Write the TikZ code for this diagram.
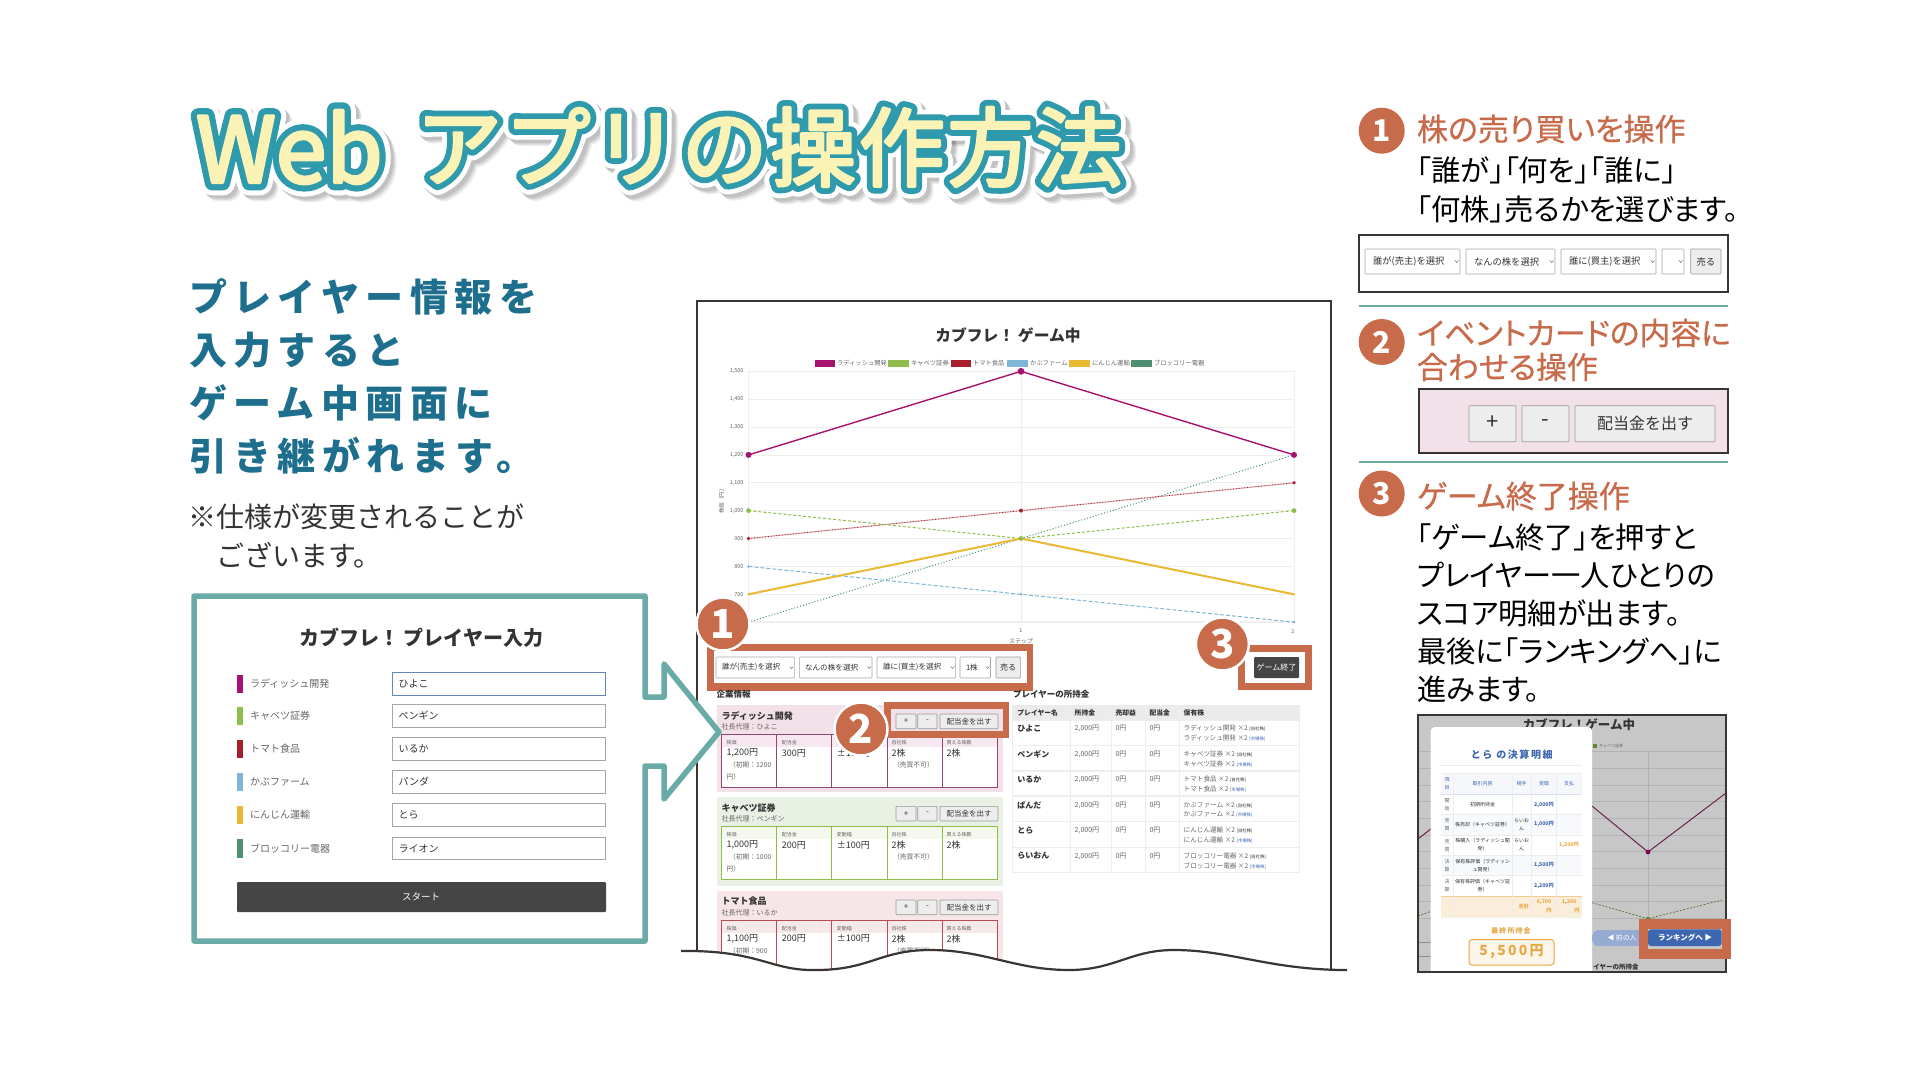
\documentclass[tikz,border=0pt]{standalone}
\usepackage{fontspec}
\setmainfont{Noto Sans CJK JP}
\newfontfamily\jpp[RawFeature=+palt]{Noto Sans CJK JP}
\newfontfamily\jpl[LetterSpace=17]{Noto Sans CJK JP}
\newfontfamily\jps[LetterSpace=16]{Noto Sans CJK JP}
\newfontfamily\ttlS[LetterSpace=3,FakeBold=29]{Noto Sans CJK JP}
\newfontfamily\ttlW[LetterSpace=3,FakeBold=28]{Noto Sans CJK JP}
\newfontfamily\ttlT[LetterSpace=3,FakeBold=17]{Noto Sans CJK JP}
\newfontfamily\ttlY[LetterSpace=3,FakeBold=3.5]{Noto Sans CJK JP}
\newfontfamily\ttlWw[FakeBold=28]{Noto Sans CJK JP}
\newfontfamily\ttlTw[FakeBold=17]{Noto Sans CJK JP}
\newfontfamily\ttlYw[FakeBold=3.5]{Noto Sans CJK JP}
\newfontfamily\medf[RawFeature=+palt,FakeBold=.6]{Noto Sans CJK JP}
\definecolor{org}{HTML}{C76B4A}
\definecolor{frm}{HTML}{6AABA8}
\definecolor{ttlteal}{HTML}{2E9AAB}
\definecolor{ttlyel}{HTML}{FBF3B5}
\definecolor{blu}{HTML}{1E6E8E}
\definecolor{drk}{HTML}{3A3532}
\definecolor{txt}{HTML}{333333}
\definecolor{gry}{HTML}{666666}
\definecolor{grd}{HTML}{EEEEEE}
\definecolor{rad}{HTML}{A8126F}
\definecolor{cab}{HTML}{8FBC4A}
\definecolor{tom}{HTML}{A81E2D}
\definecolor{kab}{HTML}{7FB6D8}
\definecolor{car}{HTML}{E9B834}
\definecolor{bro}{HTML}{4D9070}
\definecolor{pnk}{HTML}{F3E1E9}
\definecolor{pnkb}{HTML}{F6E6E8}
\definecolor{grn}{HTML}{E8F1E4}
\definecolor{mblue}{HTML}{3F67B1}
\definecolor{morg}{HTML}{E8A845}
\newcommand{\fz}[1]{\fontsize{#1}{#1}\selectfont}
\tikzset{
  lbl/.style={inner sep=0pt,outer sep=0pt},
  badge/.style={circle,fill=org,draw=white,line width=2.5pt,inner sep=0pt,text=white,font=\bfseries},
  sel/.style={draw=gray!70,fill=white,line width=.6pt,rounded corners=.8pt},
  btn/.style={draw=gray!80,fill=black!7,line width=.6pt,rounded corners=.8pt},
  orgbox/.style={fill=org},
}
\newcommand{\tx}[6][west]{\node[lbl,anchor=#1,text=#5,font=\fz{#4}] at (#2,#3) {#6};}
\newcommand{\txb}[6][west]{\node[lbl,anchor=#1,text=#5,font=\fz{#4}\bfseries] at (#2,#3) {#6};}
\newcommand{\txp}[6][west]{\node[lbl,anchor=#1,text=#5,font=\jpp\fz{#4}] at (#2,#3) {#6};}
\newcommand{\txm}[6][west]{\node[lbl,anchor=#1,text=#5,font=\medf\fz{#4}] at (#2,#3) {#6};}
% select box with chevron
\newcommand{\selbox}[7]{% x1 x2 y1 y2 textx size text
  \draw[sel] (#1,#3) rectangle (#2,#4);
  \tx{#5}{#3/2+#4/2}{#6}{txt}{#7}
  \draw[line width=.5pt,gray!90!black] (#2-1.8*#6/8-3,#3/2+#4/2-1*#6/8) -- (#2-1.8*#6/8-1.2,#3/2+#4/2+1*#6/8) -- (#2-1.8*#6/8+.6,#3/2+#4/2-1*#6/8);
}
% company card: top bottom fill border head name rep price initial ; \divd
\newcommand{\cardbox}[9]{%
  \fill[#3] (716.5,#1) rectangle (1003,#2);
  \txb{721.6}{#1+10.7}{9}{txt}{#6}
  \tx{721.6}{#1+22}{7}{gry}{#7}
  \fill[white] (721.6,#1+29.7) rectangle (997.7,#1+82);
  \fill[#5] (721.6,#1+29.7) rectangle (997.7,#1+42.3);
  \draw[#4,line width=1pt] (721.6,#1+29.7) rectangle (997.7,#1+82);
  \foreach \cx in {776.7,831.8,887.4,942.5}{\draw[#4,line width=1pt] (\cx,#1+29.7) -- (\cx,#1+82);}
  \tx{726.6}{#1+38}{5}{gry}{株価}
  \tx{781.8}{#1+38}{5}{gry}{配当金}
  \tx{836.9}{#1+38}{5}{gry}{変動幅}
  \tx{891.6}{#1+38}{5}{gry}{自社株}
  \tx{946.7}{#1+38}{5}{gry}{買える株数}
  \tx{726.6}{#1+48}{9}{txt}{#8}
  \tx{781.8}{#1+48}{9}{txt}{\divd}
  \tx{836.9}{#1+48}{9}{txt}{±100円}
  \tx{891.6}{#1+48}{9}{txt}{2株}
  \tx{946.7}{#1+48}{9}{txt}{2株}
  \tx{729}{#1+60}{6.8}{gry}{（初期：#9}
  \tx{726.6}{#1+72}{6.8}{gry}{円）}
  \tx{893}{#1+60}{6.8}{gry}{（売買不可）}
  \draw[btn] (896,#1+9.3) rectangle (916,#1+24);
  \draw[btn] (917.7,#1+9.3) rectangle (937,#1+24);
  \draw[btn] (940,#1+9.3) rectangle (998,#1+24);
  \tx[center]{906}{#1+16.5}{8}{txt}{+}
  \tx[center]{927.4}{#1+16.5}{8}{txt}{-}
  \tx[center]{969}{#1+16.5}{7.5}{txt}{配当金を出す}
}
\begin{document}
\begin{tikzpicture}[x=1pt,y=-1pt,line join=miter]
\useasboundingbox (0,0) rectangle (1920,1080);
\fill[white] (0,0) rectangle (1920,1080);

% ===== Title =====
\begin{scope}[line join=round]
\foreach \ox/\oy/\op in {6/6/.07,4.5/4.5/.09,3/3/.10}{
  \node[lbl,anchor=west,text=black,opacity=\op,font=\ttlWw\fz{91}] at (196+\ox,147+\oy) {Web};
  \node[lbl,anchor=west,text=black,opacity=\op,font=\ttlS\fz{86}] at (416+\ox,147+\oy) {アプリの操作方法};
}
\node[lbl,anchor=west,text=white,font=\ttlWw\fz{91}] (tw1) at (196,147) {Web};
\node[lbl,anchor=west,text=white,font=\ttlW\fz{86}] (tw2) at (416,147) {アプリの操作方法};
\node[lbl,anchor=west,text=ttlteal,font=\ttlTw\fz{91}] (tt1) at (196,147) {Web};
\node[lbl,anchor=west,text=ttlteal,font=\ttlT\fz{86}] (tt2) at (416,147) {アプリの操作方法};
\node[lbl,anchor=west,text=ttlyel,font=\ttlYw\fz{91}] (ty1) at (196,147) {Web};
\node[lbl,anchor=west,text=ttlyel,font=\ttlY\fz{86}] (ty2) at (416,147) {アプリの操作方法};
\end{scope}

% ===== Left text =====
\foreach \yy/\sst in {297/プレイヤー情報を,350/入力すると,403/ゲーム中画面に,456/引き継がれます。}{
  \node[lbl,anchor=west,text=blu,font=\jpl\fz{38}\bfseries] at (189,\yy) {\sst};
}
\tx{188}{517}{28}{txt}{※仕様が変更されることが}
\tx{216}{555}{28}{txt}{ございます。}

% ===== Main screen =====
\fill[white] (697,301) rectangle (1331,975);
\txb[center]{1008}{335}{15.8}{txt}{カブフレ！ ゲーム中}
% legend
\foreach \lga/\lgb/\lgc/\lgt/\lgx in {814.6/835/rad/ラディッシュ開発/837,888/909/cab/キャベツ証券/911,951/971/tom/トマト食品/973,1007/1027.5/kab/かぶファーム/1030,1069/1090/car/にんじん運輸/1092,1131/1152/bro/ブロッコリー電器/1154}{
  \fill[\lgc] (\lga,360) rectangle (\lgb,367);
  \tx{\lgx}{363.5}{6.3}{gry}{\lgt}
}
% grid
\foreach \gy/\gl in {371.3/{1,500},399.2/{1,400},427/{1,300},454.9/{1,200},482.8/{1,100},510.6/{1,000},538.5/900,566.4/800,594.3/700}{
  \draw[grd,line width=.8pt] (748.5,\gy) -- (1294,\gy);
  \tx[east]{743.5}{\gy}{5.5}{gry}{\gl}
}
\draw[grd,line width=1.4pt] (748.5,622.1) -- (1294,622.1);
\foreach \gx in {748.5,1021,1294}{\draw[grd,line width=.8pt] (\gx,371.3) -- (\gx,622.1);}
\node[lbl,rotate=90,text=gry,font=\fz{5.5}] (ylab) at (721.5,500) {株価（円）};
\tx[center]{1021}{631}{5.5}{gry}{1}
\tx[center]{1293}{631}{5.5}{gry}{2}
\tx[center]{1021}{641}{6}{gry}{ステップ}
% series
\draw[bro,line width=1pt,dotted] (748.5,622.1) -- (1021,538.5) -- (1294,454.9);
\draw[kab,line width=1pt,dash pattern=on 4pt off 2pt] (748.5,566.4) -- (1021,594.3) -- (1294,622.1);
\draw[tom!40,line width=1pt] (748.5,538.5) -- (1021,510.6) -- (1294,482.8);
\draw[tom,line width=.8pt,dotted] (748.5,538.5) -- (1021,510.6) -- (1294,482.8);
\draw[cab,line width=1pt,dash pattern=on 3pt off 2pt] (748.5,510.6) -- (1021,538.5) -- (1294,510.6);
\draw[car,line width=2pt] (748.5,594.3) -- (1021,538.5) -- (1294,594.3);
\draw[rad,line width=1.4pt] (748.5,454.9) -- (1021,371.3) -- (1294,454.9);
\foreach \mx/\my/\mc/\mr in {748.5/454.9/rad/3,1021/371.3/rad/3.4,1294/454.9/rad/3,748.5/510.6/cab/2.4,1021/538.5/cab/2.4,1294/510.6/cab/2.4,748.5/538.5/tom/1.8,1021/510.6/tom/2,1294/482.8/tom/1.8,748.5/566.4/kab/1.4,1021/594.3/kab/1.4,1294/622.1/kab/1.4,748.5/594.3/car/1.2,1294/594.3/car/1.2}{
  \fill[\mc] (\mx,\my) circle[radius=\mr pt];
}
% controls 1
\fill[orgbox] (707,644) rectangle (1033,690.5);
\fill[white] (714,651) rectangle (1027,683);
\selbox{716}{794.4}{657}{678}{722}{7.6}{誰が(売主)を選択}
\selbox{799.4}{872}{657}{678}{805}{7.6}{なんの株を選択}
\selbox{877}{955.6}{657}{678}{883}{7.6}{誰に(買主)を選択}
\selbox{960}{990.5}{657}{678}{966}{7.6}{1株}
\draw[btn] (996,657) rectangle (1020.4,678);
\tx[center]{1008.2}{667.5}{8}{txt}{売る}
% game end
\fill[orgbox] (1238,645) rectangle (1311.6,690);
\fill[white] (1245,652) rectangle (1304.5,683);
\fill[black!73,rounded corners=1pt] (1254,657) rectangle (1299,678);
\tx[center]{1276.5}{667.5}{8}{white}{ゲーム終了}
% section heads
\txb{716.5}{694.5}{8.5}{txt}{企業情報}
\txb{1013}{694.5}{8.5}{txt}{プレイヤーの所持金}
% cards
\def\divd{300円}
\cardbox{705}{792}{pnk}{rad!55!gray}{rad!10!white}{ラディッシュ開発}{社長代理：ひよこ}{1,200円}{1200}
\def\divd{200円}
\cardbox{797}{885.7}{grn}{cab}{cab!10!white}{キャベツ証券}{社長代理：ペンギン}{1,000円}{1000}
\cardbox{890.7}{1000}{pnkb}{tom!80!white}{tom!10!white}{トマト食品}{社長代理：いるか}{1,100円}{900}
% player table
\fill[black!8] (1012.8,705) rectangle (1299,720);
\foreach \hdx/\hdt in {1017.4/プレイヤー名,1074.7/所持金,1115.5/売却益,1149.6/配当金,1183.7/保有株}{
  \txb{\hdx}{713}{6.8}{txt}{\hdt}
}
\foreach \rl in {720,745.7,771,796,821.7,847.3,872.7}{\draw[grd,line width=1.1pt] (1012.8,\rl) -- (1299,\rl);}
\foreach \cl in {1012.8,1070.5,1111.3,1145.4,1179.5,1299}{\draw[grd,line width=.8pt] (\cl,705) -- (\cl,872.7);}
\foreach \pn/\co/\py in {ひよこ/ラディッシュ開発/728.5,ペンギン/キャベツ証券/754,いるか/トマト食品/779.5,ぱんだ/かぶファーム/805,とら/にんじん運輸/830.5,らいおん/ブロッコリー電器/856}{
  \txb{1017.4}{\py}{8}{txt}{\pn}
  \tx{1074.7}{\py}{7}{gry}{2,000円}
  \tx{1115.5}{\py}{7}{gry}{0円}
  \tx{1149.6}{\py}{7}{gry}{0円}
  \tx{1183.7}{\py}{6.6}{gry}{\co\ ×2 {\fz{4.4}\color{txt}[自社株]}}
  \tx{1183.7}{\py+9.7}{6.6}{gry}{\co\ ×2 {\fz{4.4}\color{mblue}[市場株]}}
}
% box 2 on screen
\fill[orgbox] (883.6,702) rectangle (1009,737.7);
\fill[pnk] (891,709) rectangle (1002.7,731);
\draw[btn] (896,714) rectangle (916,728.7);
\draw[btn] (917.7,714) rectangle (937,728.7);
\draw[btn] (940,714) rectangle (998,728.7);
\tx[center]{906}{721.3}{8}{txt}{+}
\tx[center]{927.4}{721.3}{8}{txt}{-}
\tx[center]{969}{721.3}{7.5}{txt}{配当金を出す}
% screen frame
\draw[drk,line width=2pt] (697,953) -- (697,301) -- (1331,301) -- (1331,971);
% wave
\coordinate (w0) at (681,951);
\fill[white] (681,951) .. controls (760,950) and (770,971) .. (816,970) .. controls (870,970) and (880,950) .. (930,950) .. controls (985,950) and (1015,970) .. (1069,970) .. controls (1115,970) and (1130,950) .. (1174,950) .. controls (1230,950) and (1270,970) .. (1347,970) -- (1347,1010) -- (681,1010) -- cycle;
\draw[drk,line width=2.2pt] (w0) .. controls (760,950) and (770,971) .. (816,970) .. controls (870,970) and (880,950) .. (930,950) .. controls (985,950) and (1015,970) .. (1069,970) .. controls (1115,970) and (1130,950) .. (1174,950) .. controls (1230,950) and (1270,970) .. (1347,970);

% ===== Input form =====
\draw[frm,line width=5.5pt,fill=white,line join=round] (194,596) -- (645,596) -- (645,697) -- (664,697) -- (664,664) -- (719,732) -- (664,799) -- (664,766) -- (645,766) -- (645,941) -- (194,941) -- cycle;
\txb[center]{421}{638}{20}{txt}{カブフレ！ プレイヤー入力}
\foreach \ry/\rc/\rtx/\rv in {683.7/rad/ラディッシュ開発/ひよこ,716/cab/キャベツ証券/ペンギン,749/tom/トマト食品/いるか,782/kab/かぶファーム/パンダ,815/car/にんじん運輸/とら,848.3/bro/ブロッコリー電器/ライオン}{
  \fill[\rc] (237,\ry-9.2) rectangle (243,\ry+9.2);
  \tx{250}{\ry}{10}{gry}{\rtx}
  \draw[gray!70,line width=.8pt,fill=white] (392.5,\ry-11.3) rectangle (605.7,\ry+11.3);
  \tx{398.5}{\ry}{10}{txt}{\rv}
}
\draw[mblue!80,line width=1pt] (392.5,672.4) rectangle (605.7,695);
\fill[black!73,rounded corners=1pt] (237,882) rectangle (606,912);
\tx[center]{421}{897}{9.5}{white}{スタート}

% badges on screen
\node[badge,minimum size=53pt,font=\fz{40}\bfseries] (b1) at (723,624) {1};
\node[badge,minimum size=53pt,font=\fz{40}\bfseries] (b3) at (1222.4,644) {3};
\node[badge,minimum size=53pt,font=\fz{40}\bfseries] (b2) at (861,729) {2};

% ===== Right column =====
\node[badge,minimum size=46pt,font=\fz{30}\bfseries,draw=none] (r1) at (1381.7,130.7) {1};
\txm{1417}{129}{31}{org}{株の売り買いを操作}
\txp{1417}{170}{29.3}{black}{「誰が」「何を」「誰に」}
\txp{1417}{209}{29.3}{black}{「何株」売るかを選びます。}
\draw[drk,line width=2pt,fill=white] (1359,235) rectangle (1728,292);
\selbox{1365}{1460}{249}{274}{1373}{9.3}{誰が(売主)を選択}
\selbox{1466}{1555}{249}{274}{1474}{9.3}{なんの株を選択}
\selbox{1561}{1656}{249}{274}{1569}{9.3}{誰に(買主)を選択}
\selbox{1662}{1684}{249}{274}{1668}{9.3}{}
\draw[btn] (1690.7,249) rectangle (1721,274);
\tx[center]{1705.8}{261.5}{9.3}{txt}{売る}
\draw[frm,line width=1.4pt] (1359,306) -- (1728,306);
\node[badge,minimum size=46pt,font=\fz{30}\bfseries,draw=none] (r2) at (1381.7,342) {2};
\txm{1417}{333}{30.8}{org}{イベントカードの内容に}
\txm{1417}{367}{30.8}{org}{合わせる操作}
\draw[drk,line width=2pt,fill=pnk] (1419,389) rectangle (1728,453);
\draw[btn] (1469,405.7) rectangle (1516,441.7);
\draw[btn] (1522,405.7) rectangle (1569,441.7);
\draw[btn] (1575,405.7) rectangle (1715,441.7);
\tx[center]{1492.5}{423}{22}{txt}{+}
\tx[center]{1545.5}{423}{22}{txt}{-}
\tx[center]{1645}{423}{16}{txt}{配当金を出す}
\draw[frm,line width=1.4pt] (1359,462) -- (1728,462);
\node[badge,minimum size=46pt,font=\fz{30}\bfseries,draw=none] (r3) at (1381.7,493.5) {3};
\txm{1417}{496}{31}{org}{ゲーム終了操作}
\txp{1417}{537.6}{29.3}{black}{「ゲーム終了」を押すと}
\txp{1417}{575.5}{29.3}{black}{プレイヤー一人ひとりの}
\txp{1417}{613.5}{29.3}{black}{スコア明細が出ます。}
\txp{1417}{651}{29.3}{black}{最後に「ランキングへ」に}
\txp{1417}{689}{29.3}{black}{進みます。}

% ===== Thumbnail =====
\begin{scope}
\clip (1418,715) rectangle (1725.7,972);
\fill[black!22] (1418,715) rectangle (1725.7,972);
\foreach \gy in {751.7,768.3,785,801.7,818.3,835,851.7,868.3,885,901.7,918.3}{\draw[black!30,line width=.6pt] (1418,\gy) -- (1726,\gy);}
\draw[black!30,line width=.6pt] (1648,751.7) -- (1648,926);
\draw[black!45,line width=.6pt] (1418,942) -- (1432,942) (1418,956) -- (1432,956);
\txb[center]{1579}{725}{12.5}{txt}{カブフレ！ゲーム中}
\fill[cab!70!black] (1593,743.5) rectangle (1597,748);
\tx{1599}{745.7}{4}{gry}{キャベツ証券}
\draw[rad!60!black!80!gray,line width=1pt] (1418,839) -- (1432,828) (1592,806) -- (1648,852) -- (1726,793);
\fill[rad!70!black] (1648,852) circle[radius=2.4pt];
\draw[cab!60!black,line width=.7pt,dash pattern=on 2pt off 1.5pt] (1418,916) -- (1432,911) (1592,902.7) -- (1648,918.7) -- (1722,900);
\fill[cab!70!black] (1648,918.7) circle[radius=2pt];
\txb{1593.3}{967}{6.5}{txt}{イヤーの所持金}
% modal
\fill[white,rounded corners=4pt] (1430.7,727) rectangle (1592,985);
\node[lbl,text=mblue,font=\jps\fz{10}\bfseries] (mt) at (1511.7,755) {とら の決算明細};
\draw[black!8,line width=.6pt] (1441,765) -- (1581.7,765);
\fill[mblue!5] (1441,773) rectangle (1581.7,794.3);
\fill[mblue!4] (1441,814.3) rectangle (1581.7,835);
\fill[mblue!4] (1441,855.3) rectangle (1581.7,875.7);
\fill[morg!20] (1441,896.3) rectangle (1581.7,917.3);
\draw[mblue!20,line width=.8pt] (1441,794.3) -- (1581.7,794.3);
\draw[morg!60,line width=.8pt] (1441,896.3) -- (1581.7,896.3);
\foreach \rl in {773,814.3,835,855.3,875.7,917.3}{\draw[black!7,line width=.5pt] (1441,\rl) -- (1581.7,\rl);}
\foreach \cl in {1453.3,1512,1531.3,1556.3}{\draw[black!7,line width=.5pt] (\cl,773) -- (\cl,917.3);}
\tx[center]{1447}{780}{5}{mblue}{項}
\tx[center]{1447}{788}{5}{mblue}{目}
\tx[center]{1482.6}{784}{5}{mblue}{取引内容}
\tx[center]{1521.6}{784}{5}{mblue}{相手}
\tx[center]{1544}{784}{5}{mblue}{受取}
\tx[center]{1569}{784}{5}{mblue}{支払}
\foreach \ya/\yb/\ca/\cb in {801/809/開/始,821/829/売/買,841.5/849.5/売/買,862/870/決/算,882/890/決/算}{
  \tx[center]{1447}{\ya}{5}{gry}{\ca}
  \tx[center]{1447}{\yb}{5}{gry}{\cb}
}
\tx[center]{1482.6}{805}{5}{txt}{初期所持金}
\tx[center]{1482.6}{824.5}{5}{txt}{株売却（キャベツ証券）}
\tx[center]{1482.6}{841}{5}{txt}{株購入（ラディッシュ開}
\tx[center]{1482.6}{849}{5}{txt}{発）}
\tx[center]{1482.6}{861.5}{5}{txt}{保有株評価（ラディッシ}
\tx[center]{1482.6}{870}{5}{txt}{ュ開発）}
\tx[center]{1482.6}{881.5}{5}{txt}{保有株評価（キャベツ証}
\tx[center]{1482.6}{890}{5}{txt}{券）}
\tx[center]{1521.6}{820.5}{5}{txt}{らいお}
\tx[center]{1521.6}{828.5}{5}{txt}{ん}
\tx[center]{1521.6}{841}{5}{txt}{らいお}
\tx[center]{1521.6}{849}{5}{txt}{ん}
\foreach \mv/\my in {{2,000円}/805,{1,000円}/824.5,{1,500円}/865.5,{2,200円}/886}{
  \txb[center]{1544}{\my}{5.2}{mblue}{\mv}
}
\txb[center]{1569}{845}{5.2}{morg}{1,200円}
\txb[east]{1529}{906.5}{5.2}{morg}{合計}
\txb[center]{1544}{902}{5.2}{morg}{6,700}
\txb[center]{1549}{910.5}{5.2}{morg}{円}
\txb[center]{1569}{902}{5.2}{morg}{1,200}
\txb[center]{1577}{910.5}{5.2}{morg}{円}
\node[lbl,text=morg,font=\jps\fz{7}\bfseries] (fl) at (1511,931) {最終所持金};
\draw[morg,line width=1pt,fill=morg!12,rounded corners=3pt] (1469,939.5) rectangle (1554,965);
\node[lbl,text=morg,font=\jps\fz{14}\bfseries] (fv) at (1511.5,952) {5,500円};
% nav buttons
\fill[mblue!55!white,rounded corners=5pt] (1592.7,930) rectangle (1655,946);
\fill[mblue!55!white] (1592,935) rectangle (1597,941);
\tx[center]{1622}{938}{6.8}{white}{◀ 前の人}
\end{scope}
\draw[drk,line width=2pt] (1418,715) rectangle (1725.7,972);
% orange box thumbnail
\fill[orgbox] (1639,919) rectangle (1730.7,959);
\fill[black!22] (1648,929) rectangle (1721.7,949);
\fill[mblue,rounded corners=3pt] (1648,929.3) rectangle (1721.7,946);
\node[lbl,text=white,font=\fz{7.5}\bfseries] (rk) at (1685,938) {ランキングへ ▶};
\end{tikzpicture}
\end{document}
